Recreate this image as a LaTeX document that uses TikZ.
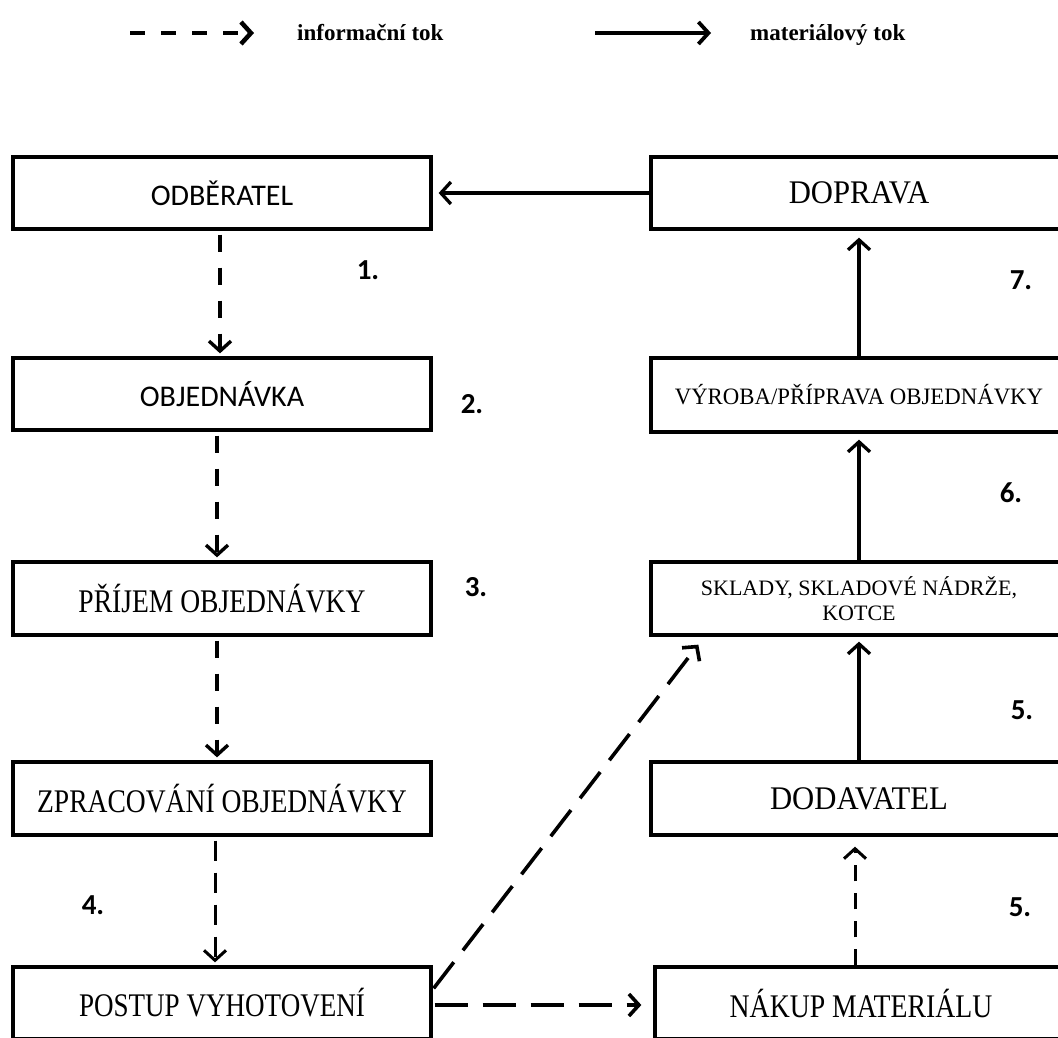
\documentclass[tikz,border=0pt]{standalone}
\usepackage{fontspec}
\usepackage{graphicx}
\setmainfont{Liberation Serif}
\newfontfamily\calib{Carlito}
\usetikzlibrary{arrows.meta,calc}
\newcommand{\sx}[2]{\scalebox{#1}[1]{#2}}
\begin{document}
\begin{tikzpicture}[x=1pt,y=-1pt,
  box/.style={draw, line width=3.3pt, inner sep=0pt, minimum width=418pt, minimum height=72pt, align=center},
  rbox/.style={box, minimum width=416pt},
  serif/.style={font=\fontsize{33}{35}\selectfont},
  sans/.style={font=\calib\fontsize{30}{32}\selectfont},
  num/.style={font=\calib\bfseries\fontsize{29}{31}\selectfont},
  legtext/.style={font=\bfseries\fontsize{23}{25}\selectfont, anchor=base west, inner sep=0pt},
  tip/.style={-{Straight Barb[length=10pt,width=22pt]}},
  solidarrow/.style={tip, line width=3.3pt},
  infoarrow/.style={tip, line width=3.4pt, dash pattern=on 17pt off 16pt},
  longdash/.style={tip, line width=3.6pt, dash pattern=on 33pt off 15pt}
]
\useasboundingbox (0,0) rectangle (1058,1037);
\fill[white] (0,0) rectangle (1058,1037);
\begin{scope}
\clip (0,0) rectangle (1058,1037);
% legend
\coordinate (l1s) at (130,33);
\coordinate (l1e) at (254,33);
\draw[tip, line width=4.5pt, dash pattern=on 15pt off 16pt] (l1s) -- (l1e);
\node[legtext] (lt1) at (297,40) {informační tok};
\coordinate (l2s) at (595,33);
\coordinate (l2e) at (711,33);
\draw[tip, line width=3.8pt] (l2s) -- (l2e);
\node[legtext] (lt2) at (750,40) {materiálový tok};

% left column
\node[box, sans] (odb) at (222,193) {ODBĚRATEL};
\node[box, sans] (obj) at (222,394) {OBJEDNÁVKA};
\node[box, serif, minimum height=73pt] (pri) at (222,598.5) {\sx{0.835}{PŘÍJEM OBJEDNÁVKY}};
\node[box, serif, minimum height=73pt] (zpr) at (222,798.5) {\sx{0.835}{ZPRACOVÁNÍ OBJEDNÁVKY}};
\node[box, serif] (pos) at (222,1003) {\sx{0.82}{POSTUP VYHOTOVENÍ}};

% right column
\node[rbox, serif] (dop) at (859,193) {\sx{0.93}{DOPRAVA}};
\node[rbox, minimum height=74pt, font=\fontsize{23.5}{25}\selectfont] (vyr) at (859,395) {\sx{0.97}{VÝROBA/PŘÍPRAVA OBJEDNÁVKY}};
\node[rbox, minimum height=73pt, font=\fontsize{22}{25}\selectfont] (skl) at (859,598.5) {SKLADY, SKLADOVÉ NÁDRŽE,\\KOTCE};
\node[rbox, serif, minimum height=73pt] (dod) at (859,798.5) {\sx{0.93}{DODAVATEL}};
\node[rbox, serif, minimum width=412pt] (nak) at (861,1003) {\sx{0.84}{NÁKUP MATERIÁLU}};

% numbers
\node[num] (n1) at (368,270) {1.};
\node[num] (n2) at (472,404) {2.};
\node[num] (n3) at (476,587) {3.};
\node[num] (n4) at (93,905) {4.};
\node[num] (n5a) at (1022,710) {5.};
\node[num] (n5b) at (1020,907) {5.};
\node[num] (n6) at (1011,493) {6.};
\node[num] (n7) at (1021,280) {7.};

% material flow
\draw[solidarrow, shorten >=6pt] (dop.west) -- (odb.east);
\draw[solidarrow, shorten >=7pt] (vyr.north) -- (dop.south);
\draw[solidarrow, shorten >=6pt] (skl.north) -- (vyr.south);
\draw[solidarrow, shorten >=5pt] (dod.north) -- (skl.south);

% information flow
\draw[infoarrow, shorten <=4pt, shorten >=3pt] ($(odb.south)+(-2,0)$) -- ($(obj.north)+(-2,0)$);
\draw[infoarrow, shorten <=4pt, shorten >=3pt] ($(obj.south)+(-5,0)$) -- ($(pri.north)+(-5,0)$);
\draw[infoarrow, shorten <=4pt, shorten >=3pt] ($(pri.south)+(-5,0)$) -- ($(zpr.north)+(-5,0)$);
\draw[infoarrow, shorten <=4pt, shorten >=3pt, line width=3pt, dash pattern=on 20pt off 12pt] ($(zpr.south)+(-7,0)$) -- ($(pos.north)+(-7,0)$);
\draw[infoarrow, line width=3pt, dash pattern=on 16pt off 12pt, shorten >=10pt] ($(nak.north)+(-6,0)$) -- ($(dod.south)+(-4,0)$);
\draw[longdash, shorten <=2pt, shorten >=12pt] ($(pos.east)+(0,2)$) -- ($(nak.west)+(0,2)$);
\draw[longdash] ($(pos.north east)+(1,23)$) -- ($(skl.south west)+(49,8)$);
\end{scope}
\end{tikzpicture}
\end{document}
